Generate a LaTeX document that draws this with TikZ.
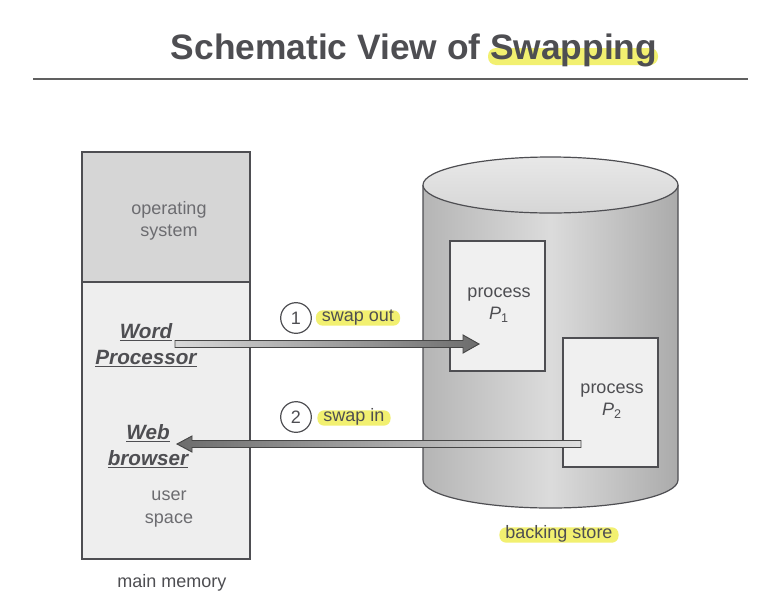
\documentclass[tikz,border=0pt]{standalone}
\usepackage{fontspec}
\setmainfont{Liberation Sans}
\usetikzlibrary{calc}
\definecolor{hlyellow}{RGB}{242,240,112}
\definecolor{inkgray}{RGB}{78,78,82}
\definecolor{labelgray}{RGB}{108,108,112}
\tikzset{
  body/.style={font=\fontsize{13.5}{17}\selectfont, text=inkgray},
  twoline/.style={body, align=center},
  hlbox/.style={body, fill=hlyellow, rounded corners=5pt, inner xsep=4.5pt, inner ysep=0.5pt, text height=8pt, text depth=2.5pt},
  stepnum/.style={body, circle, draw=inkgray, line width=0.9pt, minimum size=23pt, inner sep=0pt},
  progname/.style={font=\fontsize{15.5}{19.5}\selectfont\bfseries\itshape, text=inkgray, align=center},
  procbox/.style={fill=gray!12, draw=inkgray, line width=0.9pt},
  edge/.style={draw=inkgray, line width=0.9pt}
}
\begin{document}
\begin{tikzpicture}[x=0.75pt, y=-0.75pt]
\useasboundingbox[fill=white] (0,0) rectangle (777,611);

% Title
\fill[hlyellow, rounded corners=6pt] (488,48) rectangle (658,65);
\node[anchor=base, font=\fontsize{26.5}{30}\selectfont\bfseries, text=inkgray] (title) at (414,59) {Schematic View of Swapping};
\draw[gray!75!black, line width=2pt] (33,79) -- (748,79);

% Main memory
\fill[gray!32] (82,152) rectangle (250,282);
\fill[gray!13] (82,282) rectangle (250,559);
\draw[edge] (82,152) rectangle (250,559);
\draw[edge] (82,282) -- (250,282);
\node[twoline, text=labelgray] (os) at (169,221) {operating\\system};
\node[twoline, text=labelgray] (us) at (169,509) {user\\space};
\node[body] (mm) at (172,583) {main memory};
\node[progname] (wp) at (146,345) {\underline{Word}\\\underline{Processor}};
\node[progname] (wb) at (148,446) {\underline{Web}\\\underline{browser}};

% Backing store
\shade[left color=gray!58, right color=gray!66, middle color=gray!28] (423,185) -- (423,480) arc[start angle=180, end angle=0, x radius=127.5, y radius=28] -- (678,185) -- cycle;
\draw[edge] (423,185) -- (423,480) arc[start angle=180, end angle=0, x radius=127.5, y radius=28] -- (678,185);
\shade[top color=gray!18, bottom color=gray!32, edge] (550.5,185) ellipse [x radius=127.5, y radius=28];
\draw[procbox] (450,241) rectangle (545,371);
\draw[procbox] (563,338) rectangle (658,467);
\node[twoline] (p1) at (499,305) {process\\\textit{P}\textsubscript{1}};
\node[twoline] (p2) at (612,401) {process\\\textit{P}\textsubscript{2}};
\node[hlbox] (bs) at (559,535) {backing store};

% Swap out
\coordinate (outtail) at (175,344);
\coordinate (outtip) at (479,344);
\shade[left color=gray!30, right color=gray!85!black, draw=gray!55!black, line width=0.7pt]
  ($(outtail)+(0,-3.5)$) -- ($(outtip)+(-16,-3.5)$) -- ($(outtip)+(-16,-9)$) -- (outtip)
  -- ($(outtip)+(-16,9)$) -- ($(outtip)+(-16,3.5)$) -- ($(outtail)+(0,3.5)$) -- cycle;
\node[stepnum] (n1) at (296,318) {1};
\node[hlbox] (so) at (358,318) {swap out};

% Swap in
\coordinate (intail) at (581,444);
\coordinate (intip) at (177,444);
\shade[left color=gray!85!black, right color=gray!25, draw=gray!55!black, line width=0.7pt]
  ($(intail)+(0,-3.5)$) -- ($(intip)+(15,-3.5)$) -- ($(intip)+(15,-8)$) -- (intip)
  -- ($(intip)+(15,8)$) -- ($(intip)+(15,3.5)$) -- ($(intail)+(0,3.5)$) -- cycle;
\node[stepnum] (n2) at (296,417) {2};
\node[hlbox] (si) at (354,418) {swap in};
\end{tikzpicture}
\end{document}
